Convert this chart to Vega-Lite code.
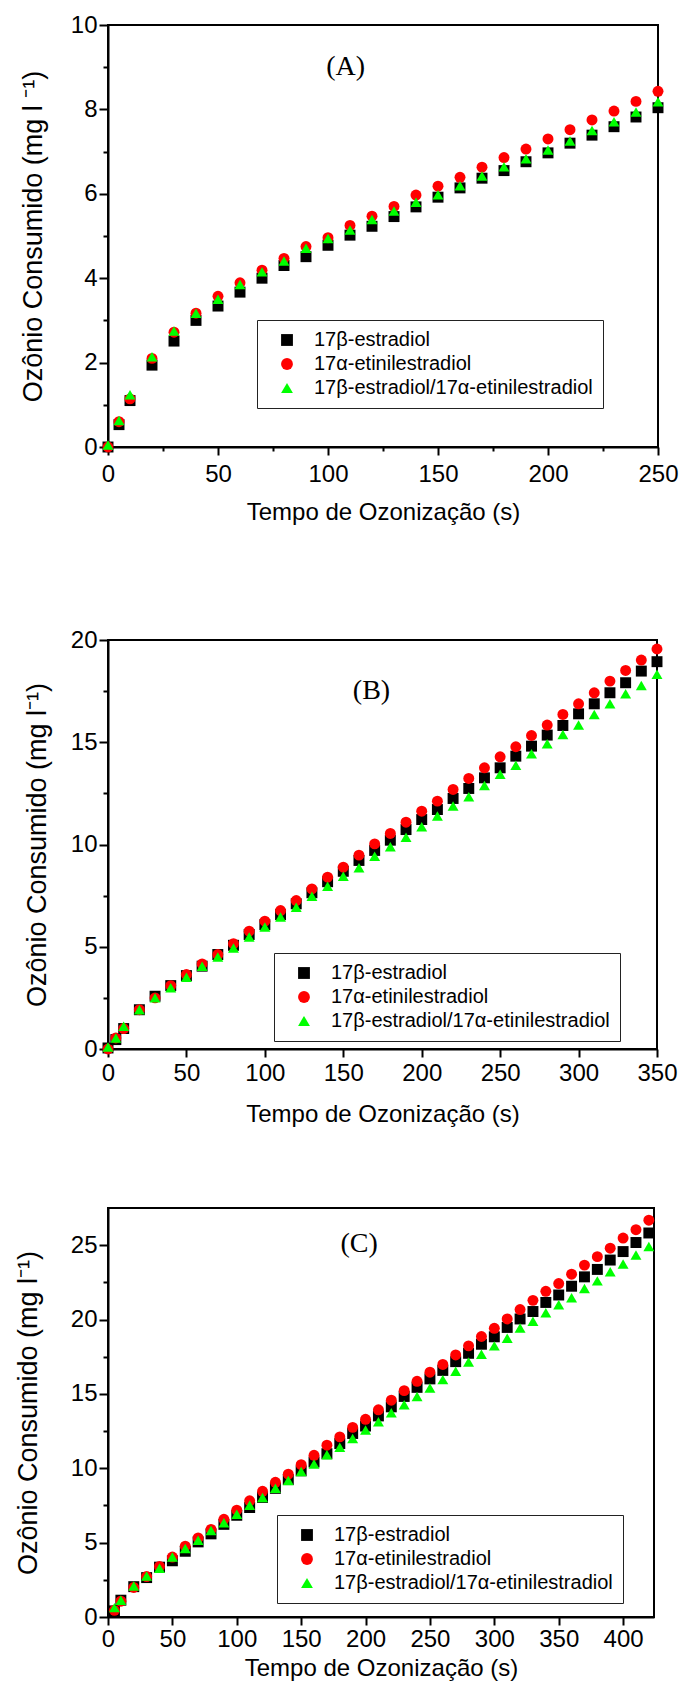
{
  "$schema": "https://vega.github.io/schema/vega-lite/v6.json",
  "padding": {"left": 13, "top": 12, "right": 0, "bottom": 0},
  "background": "white",
  "config": {
    "view": {"stroke": "black", "strokeWidth": 2},
    "axis": {
      "domainColor": "black", "domainWidth": 2, "tickColor": "black", "tickWidth": 2,
      "labelFont": "Liberation Sans", "labelFontSize": 24, "labelColor": "black",
      "titleFont": "Liberation Sans", "titleFontSize": 24, "titleFontWeight": "normal", "titleColor": "black",
      "grid": false, "labelFlush": false, "labelOverlap": false, "labelBound": false
    },
    "axisY": {"titleFontSize": 27},
    "legend": {
      "orient": "none", "strokeColor": "#222", "strokeWidth": 1, "padding": 10, "rowPadding": 4,
      "labelFont": "Liberation Sans", "labelFontSize": 20, "labelColor": "black", "labelOffset": 17,
      "symbolOffset": 10, "symbolSize": 140, "symbolStrokeWidth": 0, "title": null, "labelLimit": 500
    }
  },
  "datasets": {
    "A": [
      {"t": 0, "e": 0, "ee": 0, "m": 0.05},
      {"t": 5, "e": 0.53, "ee": 0.6, "m": 0.63},
      {"t": 10, "e": 1.10, "ee": 1.14, "m": 1.24},
      {"t": 20, "e": 1.94, "ee": 2.10, "m": 2.14},
      {"t": 30, "e": 2.51, "ee": 2.72, "m": 2.75},
      {"t": 40, "e": 3.00, "ee": 3.17, "m": 3.17},
      {"t": 50, "e": 3.34, "ee": 3.57, "m": 3.50},
      {"t": 60, "e": 3.67, "ee": 3.89, "m": 3.85},
      {"t": 70, "e": 4.00, "ee": 4.19, "m": 4.15},
      {"t": 80, "e": 4.30, "ee": 4.47, "m": 4.41},
      {"t": 90, "e": 4.51, "ee": 4.75, "m": 4.71},
      {"t": 100, "e": 4.78, "ee": 4.96, "m": 4.94},
      {"t": 110, "e": 5.02, "ee": 5.25, "m": 5.14},
      {"t": 120, "e": 5.23, "ee": 5.47, "m": 5.39},
      {"t": 130, "e": 5.46, "ee": 5.70, "m": 5.59},
      {"t": 140, "e": 5.69, "ee": 5.97, "m": 5.80},
      {"t": 150, "e": 5.92, "ee": 6.18, "m": 5.98},
      {"t": 160, "e": 6.14, "ee": 6.39, "m": 6.19},
      {"t": 170, "e": 6.37, "ee": 6.63, "m": 6.42},
      {"t": 180, "e": 6.55, "ee": 6.86, "m": 6.64},
      {"t": 190, "e": 6.76, "ee": 7.06, "m": 6.83},
      {"t": 200, "e": 6.97, "ee": 7.30, "m": 7.04},
      {"t": 210, "e": 7.20, "ee": 7.52, "m": 7.25},
      {"t": 220, "e": 7.39, "ee": 7.75, "m": 7.50},
      {"t": 230, "e": 7.59, "ee": 7.96, "m": 7.71},
      {"t": 240, "e": 7.82, "ee": 8.19, "m": 7.94},
      {"t": 250, "e": 8.04, "ee": 8.43, "m": 8.18}
    ],
    "B": [
      {"t": 0, "e": 0.05, "ee": 0, "m": 0.1},
      {"t": 5, "e": 0.46, "ee": 0.54, "m": 0.54},
      {"t": 10, "e": 1.0, "ee": 1.0, "m": 1.11},
      {"t": 20, "e": 1.92, "ee": 1.92, "m": 1.92},
      {"t": 30, "e": 2.58, "ee": 2.5, "m": 2.5},
      {"t": 40, "e": 3.1, "ee": 3.1, "m": 2.99},
      {"t": 50, "e": 3.59, "ee": 3.64, "m": 3.51},
      {"t": 60, "e": 4.05, "ee": 4.16, "m": 4.05},
      {"t": 70, "e": 4.62, "ee": 4.62, "m": 4.5},
      {"t": 80, "e": 5.07, "ee": 5.15, "m": 4.94},
      {"t": 90, "e": 5.6, "ee": 5.76, "m": 5.48},
      {"t": 100, "e": 6.08, "ee": 6.25, "m": 5.97},
      {"t": 110, "e": 6.57, "ee": 6.77, "m": 6.46},
      {"t": 120, "e": 7.1, "ee": 7.26, "m": 6.93},
      {"t": 130, "e": 7.64, "ee": 7.83, "m": 7.47},
      {"t": 140, "e": 8.18, "ee": 8.4, "m": 7.96},
      {"t": 150, "e": 8.69, "ee": 8.89, "m": 8.45},
      {"t": 160, "e": 9.22, "ee": 9.48, "m": 8.86},
      {"t": 170, "e": 9.71, "ee": 10.03, "m": 9.43},
      {"t": 180, "e": 10.21, "ee": 10.54, "m": 9.89},
      {"t": 190, "e": 10.73, "ee": 11.09, "m": 10.36},
      {"t": 200, "e": 11.22, "ee": 11.63, "m": 10.87},
      {"t": 210, "e": 11.71, "ee": 12.12, "m": 11.39},
      {"t": 220, "e": 12.25, "ee": 12.69, "m": 11.88},
      {"t": 230, "e": 12.74, "ee": 13.23, "m": 12.33},
      {"t": 240, "e": 13.26, "ee": 13.75, "m": 12.89},
      {"t": 250, "e": 13.75, "ee": 14.29, "m": 13.43},
      {"t": 260, "e": 14.32, "ee": 14.78, "m": 13.87},
      {"t": 270, "e": 14.81, "ee": 15.33, "m": 14.44},
      {"t": 280, "e": 15.35, "ee": 15.84, "m": 14.93},
      {"t": 290, "e": 15.82, "ee": 16.36, "m": 15.38},
      {"t": 300, "e": 16.39, "ee": 16.88, "m": 15.84},
      {"t": 310, "e": 16.88, "ee": 17.42, "m": 16.36},
      {"t": 320, "e": 17.42, "ee": 17.99, "m": 16.88},
      {"t": 330, "e": 17.91, "ee": 18.51, "m": 17.37},
      {"t": 340, "e": 18.48, "ee": 19.02, "m": 17.78},
      {"t": 350, "e": 18.94, "ee": 19.56, "m": 18.32}
    ],
    "C": [
      {"t": 5, "e": 0.41, "ee": 0.45, "m": 0.63},
      {"t": 10, "e": 1.13, "ee": 1.06, "m": 1.13},
      {"t": 20, "e": 2.04, "ee": 1.99, "m": 2.08},
      {"t": 30, "e": 2.65, "ee": 2.72, "m": 2.76},
      {"t": 40, "e": 3.35, "ee": 3.4, "m": 3.28},
      {"t": 50, "e": 3.78, "ee": 4.03, "m": 4.03},
      {"t": 60, "e": 4.42, "ee": 4.76, "m": 4.6},
      {"t": 70, "e": 5.05, "ee": 5.32, "m": 5.16},
      {"t": 80, "e": 5.59, "ee": 5.89, "m": 5.82},
      {"t": 90, "e": 6.23, "ee": 6.57, "m": 6.34},
      {"t": 100, "e": 6.84, "ee": 7.18, "m": 6.91},
      {"t": 110, "e": 7.36, "ee": 7.81, "m": 7.52},
      {"t": 120, "e": 8.04, "ee": 8.45, "m": 8.04},
      {"t": 130, "e": 8.65, "ee": 9.06, "m": 8.65},
      {"t": 140, "e": 9.24, "ee": 9.6, "m": 9.17},
      {"t": 150, "e": 9.83, "ee": 10.24, "m": 9.78},
      {"t": 160, "e": 10.42, "ee": 10.87, "m": 10.28},
      {"t": 170, "e": 10.98, "ee": 11.55, "m": 10.91},
      {"t": 180, "e": 11.66, "ee": 12.11, "m": 11.41},
      {"t": 190, "e": 12.34, "ee": 12.75, "m": 12.0},
      {"t": 200, "e": 12.84, "ee": 13.29, "m": 12.57},
      {"t": 210, "e": 13.52, "ee": 13.93, "m": 13.13},
      {"t": 220, "e": 14.13, "ee": 14.58, "m": 13.74},
      {"t": 230, "e": 14.83, "ee": 15.22, "m": 14.27},
      {"t": 240, "e": 15.44, "ee": 15.85, "m": 14.83},
      {"t": 250, "e": 16.01, "ee": 16.46, "m": 15.4},
      {"t": 260, "e": 16.58, "ee": 16.98, "m": 15.96},
      {"t": 270, "e": 17.17, "ee": 17.62, "m": 16.53},
      {"t": 280, "e": 17.73, "ee": 18.23, "m": 17.14},
      {"t": 290, "e": 18.34, "ee": 18.86, "m": 17.66},
      {"t": 300, "e": 18.84, "ee": 19.41, "m": 18.23},
      {"t": 310, "e": 19.47, "ee": 20.04, "m": 18.75},
      {"t": 320, "e": 20.04, "ee": 20.67, "m": 19.43},
      {"t": 330, "e": 20.54, "ee": 21.29, "m": 19.88},
      {"t": 340, "e": 21.15, "ee": 21.9, "m": 20.45},
      {"t": 350, "e": 21.65, "ee": 22.42, "m": 20.99},
      {"t": 360, "e": 22.24, "ee": 23.05, "m": 21.47},
      {"t": 370, "e": 22.87, "ee": 23.66, "m": 22.08},
      {"t": 380, "e": 23.37, "ee": 24.23, "m": 22.6},
      {"t": 390, "e": 24.0, "ee": 24.8, "m": 23.21},
      {"t": 400, "e": 24.57, "ee": 25.48, "m": 23.73},
      {"t": 410, "e": 25.18, "ee": 26.04, "m": 24.34},
      {"t": 420, "e": 25.82, "ee": 26.68, "m": 24.91}
    ]
  },
  "concat": [
    {
      "width": 550, "height": 422,
      "data": {"name": "A"},
      "layer": [
        {
          "transform": [{"fold": ["e", "ee", "m"], "as": ["s", "y"]}],
          "mark": {"type": "point", "filled": true, "opacity": 1, "size": 120, "strokeWidth": 0},
          "encoding": {
            "x": {"field": "t", "type": "quantitative", "scale": {"domain": [0, 250], "nice": false, "zero": false},
              "axis": {"title": "Tempo de Ozonização (s)", "values": [0, 25, 50, 75, 100, 125, 150, 175, 200, 225, 250],
                "labelExpr": "datum.value % 50 === 0 ? datum.label : ''",
                "tickSize": {"condition": {"test": "datum.value % 50 === 0", "value": 8}, "value": 4},
                "labelPadding": 7, "titlePadding": 14}},
            "y": {"field": "y", "type": "quantitative", "scale": {"domain": [0, 10], "nice": false, "zero": false},
              "axis": {"title": "Ozônio Consumido (mg l ⁻¹)", "values": [0, 1, 2, 3, 4, 5, 6, 7, 8, 9, 10],
                "labelExpr": "datum.value % 2 === 0 ? datum.label : ''",
                "tickSize": {"condition": {"test": "datum.value % 2 === 0", "value": 9}, "value": 5},
                "labelPadding": 2, "titlePadding": 23}},
            "color": {"field": "s", "type": "nominal",
              "scale": {"domain": ["e", "ee", "m"], "range": ["#000000", "#ff0000", "#00ff00"]},
              "legend": {"legendX": 149, "legendY": 295,
                "labelExpr": "{'e': '17β-estradiol', 'ee': '17α-etinilestradiol', 'm': '17β-estradiol/17α-etinilestradiol'}[datum.label]"}},
            "shape": {"field": "s", "type": "nominal",
              "scale": {"domain": ["e", "ee", "m"], "range": ["square", "circle", "triangle-up"]},
              "legend": {"legendX": 149, "legendY": 295,
                "labelExpr": "{'e': '17β-estradiol', 'ee': '17α-etinilestradiol', 'm': '17β-estradiol/17α-etinilestradiol'}[datum.label]"}}
          }
        },
        {
          "data": {"values": [{"t": 108, "y": 9.0, "label": "(A)"}]},
          "mark": {"type": "text", "font": "Liberation Serif", "fontSize": 28, "color": "black"},
          "encoding": {"x": {"field": "t", "type": "quantitative"}, "y": {"field": "y", "type": "quantitative"}, "text": {"field": "label"}}
        }
      ]
    },
    {
      "concat": [
        {
          "width": 549, "height": 409,
          "data": {"name": "B"},
          "layer": [
            {
              "transform": [{"fold": ["e", "ee", "m"], "as": ["s", "y"]}],
              "mark": {"type": "point", "filled": true, "opacity": 1, "size": 120, "strokeWidth": 0},
              "encoding": {
                "x": {"field": "t", "type": "quantitative", "scale": {"domain": [0, 350], "nice": false, "zero": false},
                  "axis": {"title": "Tempo de Ozonização (s)", "values": [0, 25, 50, 75, 100, 125, 150, 175, 200, 225, 250, 275, 300, 325, 350],
                    "labelExpr": "datum.value % 50 === 0 ? datum.label : ''",
                    "tickSize": {"condition": {"test": "datum.value % 50 === 0", "value": 8}, "value": 4},
                    "labelPadding": 4, "titlePadding": 17}},
                "y": {"field": "y", "type": "quantitative", "scale": {"domain": [0, 20], "nice": false, "zero": false},
                  "axis": {"title": "Ozônio Consumido (mg l⁻¹)", "values": [0, 2.5, 5, 7.5, 10, 12.5, 15, 17.5, 20],
                    "labelExpr": "datum.value % 5 === 0 ? datum.label : ''",
                    "tickSize": {"condition": {"test": "datum.value % 5 === 0", "value": 9}, "value": 5},
                    "labelPadding": 2, "titlePadding": 19}},
                "color": {"field": "s", "type": "nominal",
                  "scale": {"domain": ["e", "ee", "m"], "range": ["#000000", "#ff0000", "#00ff00"]},
                  "legend": {"legendX": 166, "legendY": 313,
                    "labelExpr": "{'e': '17β-estradiol', 'ee': '17α-etinilestradiol', 'm': '17β-estradiol/17α-etinilestradiol'}[datum.label]"}},
                "shape": {"field": "s", "type": "nominal",
                  "scale": {"domain": ["e", "ee", "m"], "range": ["square", "circle", "triangle-up"]},
                  "legend": {"legendX": 166, "legendY": 313,
                    "labelExpr": "{'e': '17β-estradiol', 'ee': '17α-etinilestradiol', 'm': '17β-estradiol/17α-etinilestradiol'}[datum.label]"}}
              }
            },
            {
              "data": {"values": [{"t": 168, "y": 17.5, "label": "(B)"}]},
              "mark": {"type": "text", "font": "Liberation Serif", "fontSize": 28, "color": "black"},
              "encoding": {"x": {"field": "t", "type": "quantitative"}, "y": {"field": "y", "type": "quantitative"}, "text": {"field": "label"}}
            }
          ]
        },
        {
          "width": 546, "height": 409,
          "data": {"name": "C"},
          "layer": [
            {
              "transform": [{"fold": ["e", "ee", "m"], "as": ["s", "y"]}],
              "mark": {"type": "point", "filled": true, "opacity": 1, "size": 120, "strokeWidth": 0},
              "encoding": {
                "x": {"field": "t", "type": "quantitative", "scale": {"domain": [0, 424], "nice": false, "zero": false},
                  "axis": {"title": "Tempo de Ozonização (s)", "values": [0, 25, 50, 75, 100, 125, 150, 175, 200, 225, 250, 275, 300, 325, 350, 375, 400],
                    "labelExpr": "datum.value % 50 === 0 ? datum.label : ''",
                    "tickSize": {"condition": {"test": "datum.value % 50 === 0", "value": 8}, "value": 4},
                    "labelPadding": 2, "titlePadding": 5}},
                "y": {"field": "y", "type": "quantitative", "scale": {"domain": [0, 27.5], "nice": false, "zero": false},
                  "axis": {"title": "Ozônio Consumido (mg l⁻¹)", "values": [0, 2.5, 5, 7.5, 10, 12.5, 15, 17.5, 20, 22.5, 25],
                    "labelExpr": "datum.value % 5 === 0 ? datum.label : ''",
                    "tickSize": {"condition": {"test": "datum.value % 5 === 0", "value": 9}, "value": 5},
                    "labelPadding": 2, "titlePadding": 28}},
                "color": {"field": "s", "type": "nominal",
                  "scale": {"domain": ["e", "ee", "m"], "range": ["#000000", "#ff0000", "#00ff00"]},
                  "legend": {"legendX": 169, "legendY": 307,
                    "labelExpr": "{'e': '17β-estradiol', 'ee': '17α-etinilestradiol', 'm': '17β-estradiol/17α-etinilestradiol'}[datum.label]"}},
                "shape": {"field": "s", "type": "nominal",
                  "scale": {"domain": ["e", "ee", "m"], "range": ["square", "circle", "triangle-up"]},
                  "legend": {"legendX": 169, "legendY": 307,
                    "labelExpr": "{'e': '17β-estradiol', 'ee': '17α-etinilestradiol', 'm': '17β-estradiol/17α-etinilestradiol'}[datum.label]"}}
              }
            },
            {
              "data": {"values": [{"t": 195, "y": 25.1, "label": "(C)"}]},
              "mark": {"type": "text", "font": "Liberation Serif", "fontSize": 28, "color": "black"},
              "encoding": {"x": {"field": "t", "type": "quantitative"}, "y": {"field": "y", "type": "quantitative"}, "text": {"field": "label"}}
            }
          ]
        }
      ],
      "columns": 1,
      "align": "none",
      "center": true,
      "spacing": 80,
      "resolve": {"scale": {"color": "independent", "shape": "independent"}, "legend": {"color": "independent", "shape": "independent"}}
    }
  ],
  "columns": 1,
  "align": "none",
  "spacing": 102,
  "resolve": {"scale": {"color": "independent", "shape": "independent"}, "legend": {"color": "independent", "shape": "independent"}}
}
